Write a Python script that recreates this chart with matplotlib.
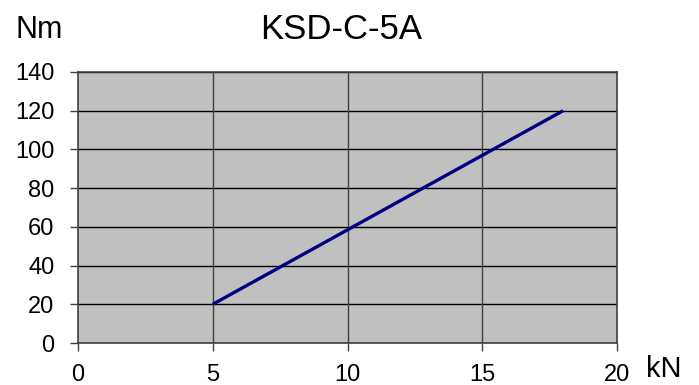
import matplotlib.pyplot as plt

kn = [5, 18]
nm = [20, 120]
xticks = [0, 5, 10, 15, 20]
yticks = [0, 20, 40, 60, 80, 100, 120, 140]

plt.rcParams['font.family'] = ['Liberation Sans', 'DejaVu Sans']

fig = plt.figure(figsize=(6.99, 3.85), dpi=100)
ax = fig.add_axes([78 / 699, 42 / 385, 539 / 699, 271 / 385])
ax.set_facecolor('#c0c0c0')

ax.plot(kn, nm, color='#000080', lw=2.4, solid_capstyle='butt', zorder=3)

ax.set_xlim(0, 20)
ax.set_ylim(0, 140)
ax.set_xticks(xticks)
ax.set_yticks(yticks)
ax.tick_params(labelsize=17, length=6, width=1, color='#404040')
ax.tick_params(axis='y', pad=11)
ax.tick_params(axis='x', pad=9)

for y in yticks[1:]:
    ax.axhline(y, color='black', lw=1, zorder=1)
for x in xticks[1:-1]:
    ax.axvline(x, color='#404040', lw=1, zorder=1)

for s in ax.spines.values():
    s.set_color('#404040')
    s.set_linewidth(1.2)

fig.text(341 / 699, 1 - 39 / 385, 'KSD-C-5A', ha='center', va='baseline', fontsize=25)
fig.text(15 / 699, 1 - 38 / 385, 'Nm', ha='left', va='baseline', fontsize=22)
fig.text(646 / 699, 1 - 377 / 385, 'kN', ha='left', va='baseline', fontsize=21)

fig.savefig('out.png', dpi=100)
